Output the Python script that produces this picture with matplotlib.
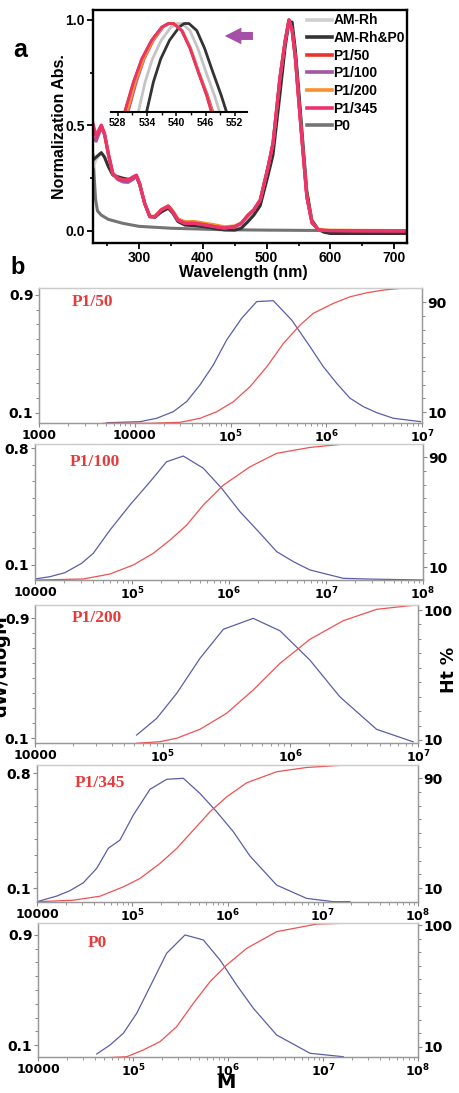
import numpy as np
import matplotlib
matplotlib.use("Agg")
import matplotlib.pyplot as plt
from matplotlib.lines import Line2D
from matplotlib.ticker import FixedLocator, NullFormatter

plt.rcParams['font.family'] = ['DejaVu Sans']
plt.rcParams['mathtext.fontset'] = 'dejavusans'

W, H = 459, 1093

# ---------------- panel a : normalised UV-vis spectra ----------------
wl = [228, 233, 241, 246, 252, 259, 267, 275, 283, 291, 296, 301, 309, 317,
      325, 335, 346, 353, 361, 372, 387, 403, 419, 434, 450, 460, 471, 480,
      490, 502, 510, 521, 529, 535, 540, 545, 550, 556, 563, 571, 581, 590,
      600, 650, 720]

p1_345 = [0.51, 0.447, 0.502, 0.463, 0.368, 0.273, 0.25, 0.242, 0.242, 0.257,
          0.265, 0.226, 0.131, 0.068, 0.068, 0.10, 0.118, 0.092, 0.052, 0.036,
          0.036, 0.028, 0.02, 0.013, 0.02, 0.035, 0.075, 0.10, 0.147, 0.30,
          0.417, 0.73, 0.90, 1.0, 0.95, 0.82, 0.63, 0.41, 0.161, 0.038, 0.005,
          0.002, 0.001, 0.0, 0.0]
p1_50 = [0.50, 0.445, 0.50, 0.46, 0.366, 0.272, 0.249, 0.24, 0.24, 0.255,
         0.263, 0.225, 0.13, 0.067, 0.067, 0.099, 0.117, 0.091, 0.052, 0.037,
         0.037, 0.03, 0.021, 0.014, 0.021, 0.036, 0.075, 0.10, 0.147, 0.30,
         0.415, 0.728, 0.90, 1.0, 0.95, 0.82, 0.63, 0.41, 0.163, 0.04, 0.006,
         0.003, 0.002, 0.001, 0.0]
p1_100 = [0.44, 0.425, 0.49, 0.455, 0.362, 0.268, 0.243, 0.232, 0.23, 0.245,
          0.258, 0.222, 0.13, 0.067, 0.067, 0.099, 0.116, 0.09, 0.051, 0.036,
          0.037, 0.03, 0.021, 0.014, 0.021, 0.036, 0.074, 0.10, 0.146, 0.298,
          0.414, 0.727, 0.90, 1.0, 0.95, 0.82, 0.63, 0.41, 0.162, 0.04, 0.006,
          0.003, 0.002, 0.001, 0.0]
p1_200 = [0.47, 0.46, 0.50, 0.462, 0.367, 0.273, 0.25, 0.242, 0.241, 0.256,
          0.264, 0.226, 0.132, 0.07, 0.07, 0.102, 0.12, 0.096, 0.058, 0.044,
          0.045, 0.037, 0.029, 0.02, 0.024, 0.038, 0.076, 0.10, 0.148, 0.30,
          0.416, 0.73, 0.90, 1.0, 0.95, 0.82, 0.63, 0.412, 0.165, 0.042, 0.008,
          0.005, 0.004, 0.003, 0.002]
am_rh_p0 = [0.336, 0.35, 0.371, 0.35, 0.305, 0.265, 0.257, 0.25, 0.245, 0.25,
            0.258, 0.22, 0.13, 0.07, 0.065, 0.09, 0.108, 0.085, 0.045, 0.028,
            0.025, 0.02, 0.012, 0.005, 0.004, 0.012, 0.045, 0.075, 0.12, 0.26,
            0.36, 0.65, 0.87, 0.99, 0.99, 0.86, 0.68, 0.45, 0.19, 0.05, 0.008,
            -0.006, -0.012, -0.012, -0.012]
am_rh = [0.30, 0.34, 0.37, 0.352, 0.31, 0.268, 0.255, 0.246, 0.242, 0.25,
         0.26, 0.222, 0.13, 0.069, 0.066, 0.093, 0.11, 0.087, 0.047, 0.031,
         0.029, 0.023, 0.015, 0.008, 0.008, 0.018, 0.055, 0.085, 0.13, 0.28,
         0.39, 0.69, 0.885, 0.995, 0.975, 0.84, 0.66, 0.43, 0.175, 0.045, 0.006,
         -0.004, -0.006, -0.006, -0.006]
p0_wl = [228, 230, 232, 235, 241, 252, 275, 300, 350, 430, 500, 600, 720]
p0_abs = [0.36, 0.25, 0.15, 0.095, 0.075, 0.055, 0.036, 0.022, 0.013, 0.006,
          0.004, 0.002, 0.0]

# inset (zoom of the band maximum)
ins_p1_wl = [529.4, 531.2, 532.9, 534.9, 537.0, 538.3, 539.4, 541.1, 542.8,
             544.5, 546.2, 547.2]
ins_p1_abs = [0.90, 0.934, 0.960, 0.981, 0.996, 1.0, 1.0, 0.992, 0.972,
              0.945, 0.919, 0.90]
ins_p1_100_wl = [530.1, 531.8, 533.4, 535.3, 537.3, 538.5, 539.5, 541.2,
                 542.9, 544.6, 546.4, 547.5]
ins_p1_200_wl = [529.9, 531.6, 533.3, 535.2, 537.2, 538.4, 539.5, 541.2,
                 542.9, 544.6, 546.3, 547.4]
ins_amrh_wl = [532.2, 533.6, 535.1, 536.9, 538.9, 540.2, 541.2, 542.8, 544.4,
               546.1, 547.8, 548.9]
ins_amrhp0_wl = [533.9, 535.3, 536.8, 538.6, 540.6, 541.6, 542.6, 544.2,
                 545.8, 547.5, 549.2, 550.3]

# ---------------- panel b : GPC traces (log10 M, dW/dlogM, Ht %) ----------------
p150_lm_w = [3.707, 4.055, 4.229, 4.403, 4.542, 4.681, 4.82, 4.96, 5.117, 5.274,
             5.447, 5.639, 5.83, 5.969, 6.109, 6.248, 6.387, 6.527, 6.701, 6.84,
             6.986]
p150_w = [0.034, 0.041, 0.064, 0.109, 0.177, 0.29, 0.425, 0.595, 0.742, 0.855,
          0.861, 0.73, 0.55, 0.414, 0.301, 0.2, 0.143, 0.102, 0.064, 0.053, 0.041]
p150_lm_c = [3.672, 4.159, 4.473, 4.681, 4.856, 5.03, 5.204, 5.379, 5.553, 5.726,
             5.865, 6.074, 6.248, 6.422, 6.596, 6.77, 6.986]
p150_c = [1.8, 1.8, 2.5, 5.4, 10.2, 17.5, 28.4, 42.9, 59.9, 73.2, 81.8, 89.0,
          93.8, 96.7, 98.7, 99.9, 100.0]

p1100_lm_w = [4.0, 4.155, 4.309, 4.481, 4.601, 4.773, 4.979, 5.186, 5.357, 5.529,
              5.735, 5.924, 6.113, 6.32, 6.491, 6.663, 6.835, 7.179, 7.42, 8.0]
p1100_w = [0.016, 0.03, 0.054, 0.11, 0.17, 0.309, 0.459, 0.598, 0.718, 0.752,
           0.679, 0.559, 0.419, 0.29, 0.18, 0.12, 0.07, 0.02, 0.016, 0.01]
p1100_lm_c = [4.0, 4.498, 4.773, 5.014, 5.22, 5.392, 5.564, 5.735, 5.942, 6.216,
              6.491, 6.835, 7.179, 7.591]
p1100_c = [0.5, 1.3, 4.9, 11.5, 20.0, 29.6, 40.5, 55.1, 69.6, 82.9, 92.7, 97.0,
           99.4, 99.9]

p1200_lm_w = [4.796, 4.953, 5.11, 5.292, 5.475, 5.709, 5.919, 6.153, 6.388, 6.676,
              6.962]
p1200_w = [0.12, 0.231, 0.398, 0.631, 0.825, 0.898, 0.815, 0.62, 0.375, 0.158,
           0.075]
p1200_lm_c = [4.796, 4.979, 5.11, 5.292, 5.501, 5.709, 5.919, 6.153, 6.414, 6.676,
              6.962]
p1200_c = [7.7, 8.8, 11.2, 17.4, 28.5, 44.6, 63.1, 79.7, 92.6, 100.5, 103.3]

p1345_lm_w = [4.0, 4.207, 4.346, 4.486, 4.627, 4.749, 4.871, 5.011, 5.186, 5.362,
              5.536, 5.711, 5.887, 6.061, 6.236, 6.516, 6.831, 7.111, 7.286]
p1345_w = [0.017, 0.051, 0.084, 0.132, 0.22, 0.342, 0.392, 0.544, 0.701, 0.762,
           0.768, 0.676, 0.564, 0.443, 0.295, 0.118, 0.037, 0.017, 0.017]
p1345_lm_c = [4.0, 4.381, 4.661, 4.906, 5.081, 5.291, 5.467, 5.641, 5.816, 5.992,
              6.202, 6.516, 6.831, 7.216]
p1345_c = [0.2, 1.3, 4.2, 11.0, 17.1, 28.0, 38.9, 52.2, 65.5, 76.4, 86.6, 94.6,
           97.7, 99.4]

p0_lm_w = [4.618, 4.758, 4.898, 5.039, 5.179, 5.354, 5.547, 5.74, 5.916, 6.091,
           6.267, 6.512, 6.863, 7.214]
p0_w = [0.035, 0.1, 0.185, 0.331, 0.524, 0.767, 0.9, 0.864, 0.718, 0.536, 0.367,
        0.173, 0.04, 0.015]
p0_lm_c = [4.618, 4.934, 5.109, 5.284, 5.46, 5.635, 5.811, 5.986, 6.197, 6.512,
           6.933, 7.214]
p0_c = [1.7, 2.8, 7.8, 13.9, 25.0, 42.2, 58.2, 70.5, 82.8, 95.1, 100.7, 101.3]

x_ticklabels_1 = ['1000', '10000', r'$\mathbf{10^5}$', r'$\mathbf{10^6}$',
                  r'$\mathbf{10^7}$']
x_ticklabels_4 = ['10000', r'$\mathbf{10^5}$', r'$\mathbf{10^6}$',
                  r'$\mathbf{10^7}$', r'$\mathbf{10^8}$']


def frac(x0, y0, x1, y1):
    # pixel box -> figure rect
    return [x0 / W, 1 - y1 / H, (x1 - x0) / W, (y1 - y0) / H]


fig = plt.figure(figsize=(W / 100, H / 100), dpi=100)

sans = 'Liberation Sans'
ax = fig.add_axes(frac(93, 10, 407, 243))
ax.plot(p0_wl, p0_abs, color='#747474', lw=2.2)
ax.plot(wl, am_rh, color='#cfcfcf', lw=2.2)
ax.plot(wl, am_rh_p0, color='#333333', lw=2.2)
ax.plot(wl, p1_100, color='#a455a8', lw=2.2)
ax.plot(wl, p1_200, color='#f7902e', lw=2.2)
ax.plot(wl, p1_50, color='#e8342a', lw=2.2)
ax.plot(wl, p1_345, color='#ea3470', lw=2.2)
ax.set_xlim(228, 720)
ax.set_ylim(-0.057, 1.047)
ax.set_xticks([300, 400, 500, 600, 700])
ax.set_xticks([250, 350, 450, 550, 650], minor=True)
ax.set_yticks([0.0, 0.5, 1.0])
ax.set_yticks([0.25, 0.75], minor=True)
ax.set_yticklabels(['0.0', '0.5', '1.0'])
ax.tick_params(direction='out', length=4, width=1.3, pad=2)
ax.tick_params(which='minor', direction='out', length=2.5, width=1.2)
for s in ax.spines.values():
    s.set_linewidth(1.7)
for lab in ax.get_xticklabels() + ax.get_yticklabels():
    lab.set_family(sans)
    lab.set_fontweight('bold')
    lab.set_fontsize(10)

names = ['AM-Rh', 'AM-Rh&P0', 'P1/50', 'P1/100', 'P1/200', 'P1/345', 'P0']
cols = ['#cfcfcf', '#333333', '#e8342a', '#a455a8', '#f7902e', '#ea3470',
        '#747474']
handles = [Line2D([], [], color=c, lw=2.6) for c in cols]
leg = ax.legend(handles, names, loc='upper left', bbox_to_anchor=(0.68, 0.985),
                frameon=False, borderpad=0, borderaxespad=0, labelspacing=0.26,
                handlelength=1.8, handletextpad=0.12,
                prop={'family': sans, 'weight': 'bold', 'size': 10})

ax.annotate('', xy=(430, 0.924), xytext=(483, 0.924),
            arrowprops=dict(arrowstyle='simple,head_length=0.75,head_width=0.75,'
                                       'tail_width=0.36',
                            color='#a64fa6', mutation_scale=16, lw=0))

fig.text(60 / W, 1 - 127 / H, 'Normalization Abs.', rotation=90, ha='center',
         va='center', family=sans, weight='bold', fontsize=11.5)
fig.text(243 / W, 1 - 272 / H, 'Wavelength (nm)', ha='center', va='center',
         family=sans, weight='bold', fontsize=11.5)
fig.text(20 / W, 1 - 50 / H, 'a', ha='center', va='center', family=sans,
         weight='bold', fontsize=18)
fig.text(18 / W, 1 - 268 / H, 'b', ha='center', va='center', family=sans,
         weight='bold', fontsize=17)

axin = fig.add_axes(frac(111, 20, 247, 112))
axin.patch.set_alpha(0)
axin.plot(ins_amrh_wl, ins_p1_abs, color='#c4c4c4', lw=2.0)
axin.plot(ins_amrhp0_wl, ins_p1_abs, color='#333333', lw=2.0)
axin.plot(ins_p1_100_wl, ins_p1_abs, color='#a455a8', lw=2.0)
axin.plot(ins_p1_200_wl, ins_p1_abs, color='#f7902e', lw=2.0)
axin.plot(ins_p1_wl, ins_p1_abs, color='#e8342a', lw=2.0)
axin.plot(ins_p1_wl, ins_p1_abs, color='#ea3470', lw=1.6)
axin.set_xlim(526.6, 554.5)
axin.set_ylim(0.9, 1.004)
for k in ['top', 'left', 'right']:
    axin.spines[k].set_visible(False)
axin.spines['bottom'].set_linewidth(1.5)
axin.set_yticks([])
axin.set_xticks([528, 534, 540, 546, 552])
axin.set_xticks([531, 537, 543, 549], minor=True)
axin.tick_params(direction='out', length=3, width=1.1, pad=1)
axin.tick_params(which='minor', direction='out', length=2, width=1.0)
for lab in axin.get_xticklabels():
    lab.set_family(sans)
    lab.set_fontweight('bold')
    lab.set_fontsize(7.5)

# ---------------- panel b ----------------
blue = '#5a5ea8'
red = '#ee5252'


def gpc_panel(box, xlim, xlabels, ylim_w, ytop, ylim_c, ctop,
              lm_w, w, lm_c, c, name, name_px):
    a = fig.add_axes(frac(*box))
    a.plot(10 ** np.array(lm_w), w, color=blue, lw=0.9)
    a.set_xscale('log')
    a.set_xlim(*xlim)
    a.set_ylim(*ylim_w)
    dec = np.arange(np.log10(xlim[0]), np.log10(xlim[1]) + 0.5)
    a.set_xticks(10 ** dec)
    a.set_xticklabels(xlabels)
    a.xaxis.set_minor_locator(FixedLocator(
        [m * 10 ** d for d in dec[:-1] for m in range(2, 10)]))
    a.xaxis.set_minor_formatter(NullFormatter())
    a.set_yticks([0.1, ytop])
    a.set_yticklabels(['0.1', str(ytop)])
    a.set_yticks(np.arange(0.2, ytop - 0.05, 0.1), minor=True)
    a.tick_params(axis='x', direction='out', length=3, width=0.8, pad=1,
                  labelsize=9, colors='#888888', labelcolor='black')
    a.tick_params(axis='x', which='minor', direction='out', length=2,
                  width=0.6, colors='#888888')
    a.tick_params(axis='y', direction='out', length=3, width=0.8, pad=1,
                  labelsize=10, colors='#888888', labelcolor='black')
    a.tick_params(axis='y', which='minor', direction='out', length=2.5,
                  width=0.7, colors='#888888')
    for lab in a.get_xticklabels() + a.get_yticklabels():
        lab.set_fontweight('bold')
    b2 = a.twinx()
    b2.plot(10 ** np.array(lm_c), c, color=red, lw=0.9)
    b2.set_ylim(*ylim_c)
    b2.set_yticks([10, ctop])
    b2.set_yticklabels(['10', str(ctop)])
    b2.set_yticks(np.arange(20, ctop - 5, 10), minor=True)
    b2.tick_params(axis='y', direction='out', length=3, width=0.8, pad=1,
                   labelsize=10, colors='#888888', labelcolor='black')
    b2.tick_params(axis='y', which='minor', direction='out', length=2.5,
                   width=0.7, colors='#888888')
    for lab in b2.get_yticklabels():
        lab.set_fontweight('bold')
    for aa in (a, b2):
        aa.spines['top'].set_color('#cccccc')
        aa.spines['left'].set_color('#999999')
        aa.spines['bottom'].set_color('#999999')
        aa.spines['right'].set_color('#999999')
        for s in aa.spines.values():
            s.set_linewidth(0.9)
    fig.text(name_px[0] / W, 1 - name_px[1] / H, name, ha='left', va='center',
             family='Liberation Serif', weight='bold', fontsize=12.5,
             color='#e63b3b')
    return a


gpc_panel((39, 288, 422, 423), (1e3, 1e7), x_ticklabels_1, (0.032, 0.947), 0.9,
          (2.0, 100.2), 90, p150_lm_w, p150_w, p150_lm_c, p150_c,
          'P1/50', (72, 302))
gpc_panel((35, 444, 423, 580), (1e4, 1e8), x_ticklabels_4, (0.010, 0.824), 0.8,
          (0.55, 99.5), 90, p1100_lm_w, p1100_w, p1100_lm_c, p1100_c,
          'P1/100', (70, 462))
gpc_panel((35, 605, 418, 743), (1e4, 1e7), x_ticklabels_4[:4], (0.067, 0.987),
          0.9, (7.9, 103.5), 100, p1200_lm_w, p1200_w, p1200_lm_c, p1200_c,
          'P1/200', (72, 618))
gpc_panel((37, 765, 418, 902), (1e4, 1e8), x_ticklabels_4, (0.015, 0.849), 0.8,
          (0.0, 99.5), 90, p1345_lm_w, p1345_w, p1345_lm_c, p1345_c,
          'P1/345', (75, 783))
gpc_panel((38, 923, 418, 1057), (1e4, 1e8), x_ticklabels_4, (0.013, 0.987), 0.9,
          (2.6, 101.5), 100, p0_lm_w, p0_w, p0_lm_c, p0_c,
          'P0', (88, 943))

fig.text(2 / W, 1 - 667 / H, r'dW/dlog$\mathbf{M}$', rotation=90, ha='center',
         va='center', weight='bold', fontsize=13)
fig.text(449 / W, 1 - 670 / H, 'Ht %', rotation=90, ha='center', va='center',
         weight='bold', fontsize=12.5)
fig.text(226 / W, 1 - 1082 / H, 'M', ha='center', va='center', weight='bold',
         fontsize=14)

fig.savefig('out.png', dpi=100)
